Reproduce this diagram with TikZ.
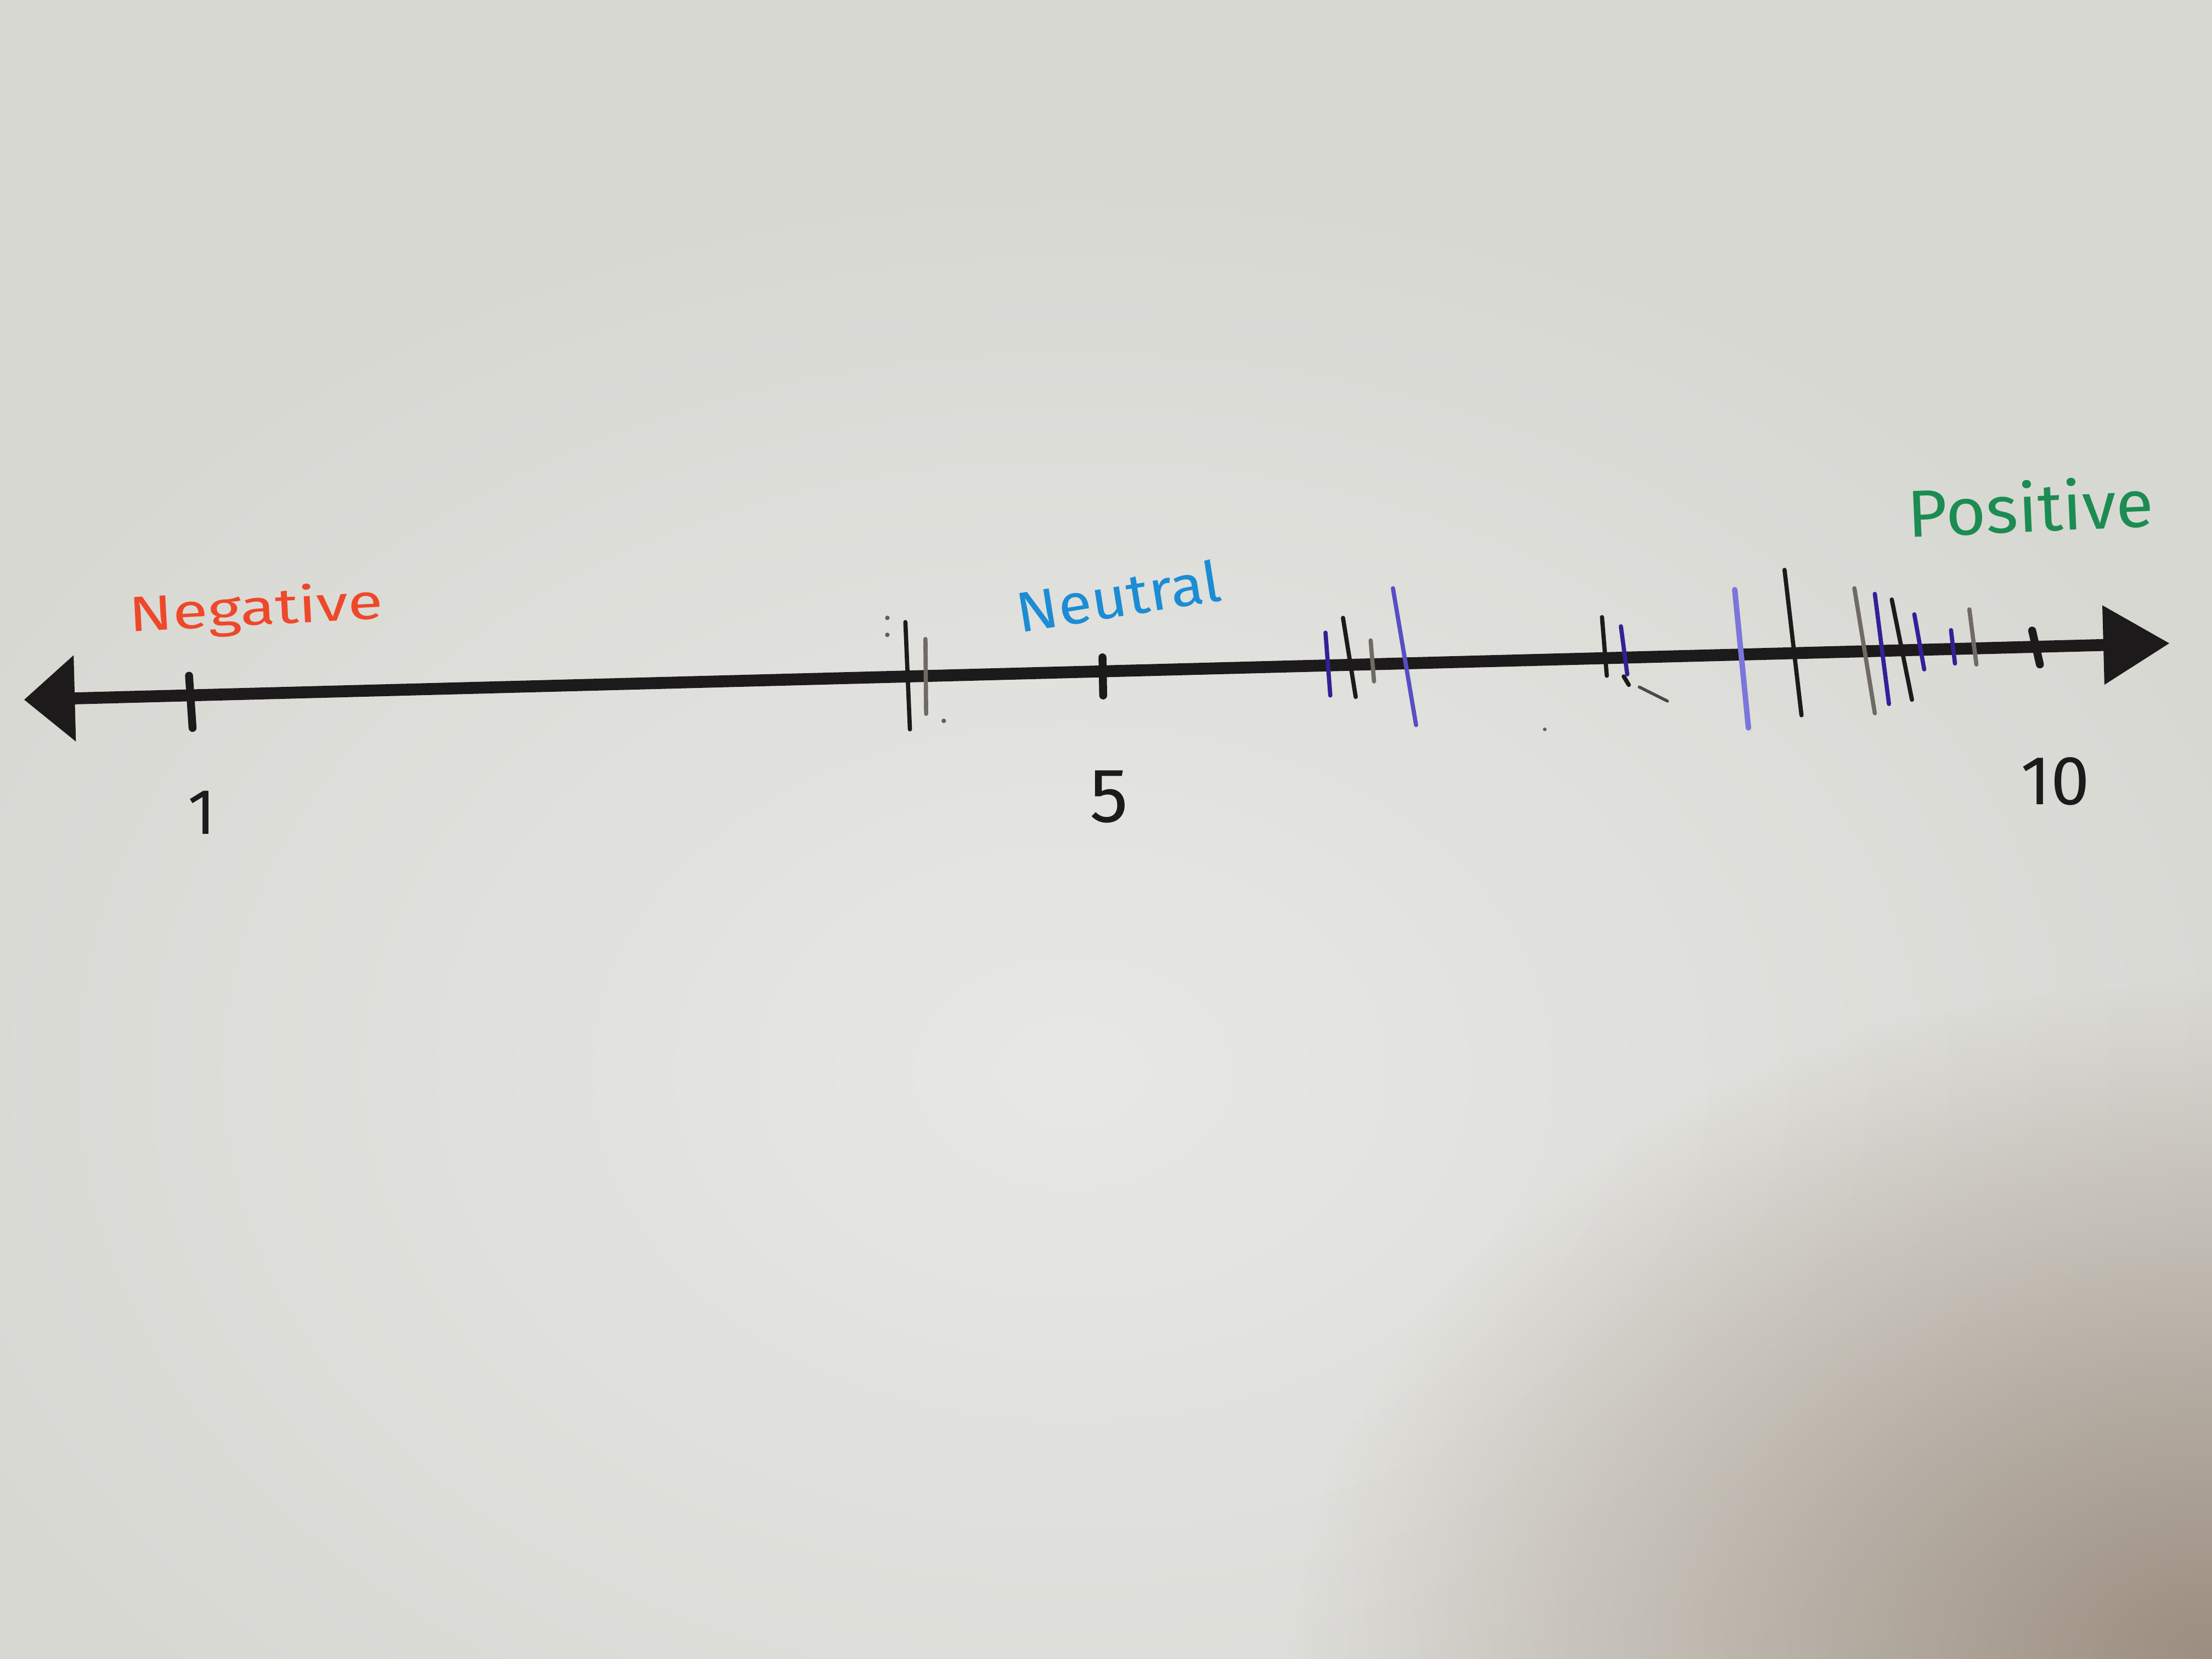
\documentclass[tikz,border=0pt]{standalone}
\usepackage{fontspec}
\setmainfont{Fira Sans}
\usetikzlibrary{arrows.meta,fadings}
\definecolor{paper}{RGB}{216,216,211}
\definecolor{paperlight}{RGB}{232,232,229}
\definecolor{paperbrown}{RGB}{156,142,128}
\definecolor{negred}{RGB}{238,72,42}
\definecolor{neublue}{RGB}{28,140,212}
\definecolor{posgreen}{RGB}{28,140,82}
\definecolor{pencil}{RGB}{28,26,26}
\definecolor{graypencil}{RGB}{112,106,100}
\definecolor{indigoink}{RGB}{52,32,150}
\definecolor{periwinkle}{RGB}{88,78,196}
\definecolor{lavenderink}{RGB}{122,118,218}
\tikzfading[name=softfade, inner color=transparent!0, outer color=transparent!100]
\begin{document}
\begin{tikzpicture}[x=0.01cm,y=-0.01cm,
  axisline/.style={line width=2.4pt, pencil,
    {Triangle[length=0.36cm,width=0.59cm]}-{Triangle[length=0.47cm,width=0.54cm]}},
  tickthin/.style={line width=0.85pt, line cap=round},
  tickthick/.style={line width=1.6pt, line cap=round},
  speck/.style={fill=pencil!70},
  wordlabel/.style={anchor=base, inner sep=0pt},
  numlabel/.style={anchor=center, inner sep=0pt, text=pencil}]
\useasboundingbox (0,0) rectangle (1568,1176);
\begin{scope}
  \clip (0,0) rectangle (1568,1176);
  \fill[paper] (0,0) rectangle (1568,1176);
  \fill[paperlight, path fading=softfade] (760,760) ellipse [x radius=900, y radius=650];
  \fill[paperbrown, path fading=softfade] (1568,1176) ellipse [x radius=650, y radius=480];
\end{scope}

% axis
\coordinate (negend) at (17,496);
\coordinate (posend) at (1538,456);
\draw[axisline] (negend) -- (posend);

% ticks
\draw[tickthick, pencil] (134,479) -- (136.5,516);
\draw[tickthin, pencil] (641.8,441) -- (645,517);
\draw[tickthin, graypencil] (656,453) -- (656.5,506);
\draw[tickthick, pencil] (781.5,466) -- (782,493);
\draw[tickthin, indigoink] (939.6,448.5) -- (943,493);
\draw[tickthin, pencil] (952,438) -- (961,494);
\draw[tickthin, graypencil] (971.6,454) -- (974,483);
\draw[tickthin, periwinkle] (987.4,417) -- (1003.8,514);
\draw[tickthin, pencil] (1135.6,437.5) -- (1139,479);
\draw[tickthin, indigoink] (1149,444) -- (1153.5,478);
\draw[tickthin, pencil] (1151,479.5) -- (1154.6,485.5);
\draw[line width=0.6pt, pencil!80, line cap=round] (1162,487) -- (1182,497);
\draw[tickthin, lavenderink, line width=1.1pt] (1229.7,418) -- (1239.4,516);
\draw[tickthin, pencil] (1265,404) -- (1277,507);
\draw[tickthin, graypencil] (1314.5,417) -- (1329,505.6);
\draw[tickthin, indigoink] (1329,421) -- (1339,499);
\draw[tickthin, pencil] (1341,425) -- (1355.3,496);
\draw[tickthin, indigoink] (1357,435.5) -- (1364,474.5);
\draw[tickthin, indigoink] (1383,446.7) -- (1385.8,470.3);
\draw[tickthin, graypencil] (1396,432) -- (1401,471);
\draw[tickthick, pencil] (1440.5,447) -- (1446,471);

% specks
\fill[speck] (629,438) circle (1.6);
\fill[speck] (629,450) circle (1.6);
\fill[speck] (669,511) circle (1.6);
\fill[speck] (1095,517) circle (1.3);

% labels
\node[wordlabel, text=negred, font=\fontsize{10}{12}\selectfont, rotate=3, xscale=1.3] (neg) at (182,443) {Negative};
\node[wordlabel, text=neublue, font=\fontsize{11.4}{13}\selectfont, rotate=9, xscale=1.09] (neu) at (795,437) {Neutral};
\node[wordlabel, text=posgreen, font=\fontsize{13.4}{15}\selectfont, rotate=2.5, xscale=1.04] (pos) at (1440,377) {Positive};
\node[numlabel, font=\fontsize{13}{15}\selectfont] (one) at (143,576) {1};
\node[numlabel, font=\fontsize{15.5}{17}\selectfont] (five) at (786,565) {5};
\node[numlabel, font=\fontsize{14}{16}\selectfont] (ten) at (1457,554) {10};
\end{tikzpicture}
\end{document}
